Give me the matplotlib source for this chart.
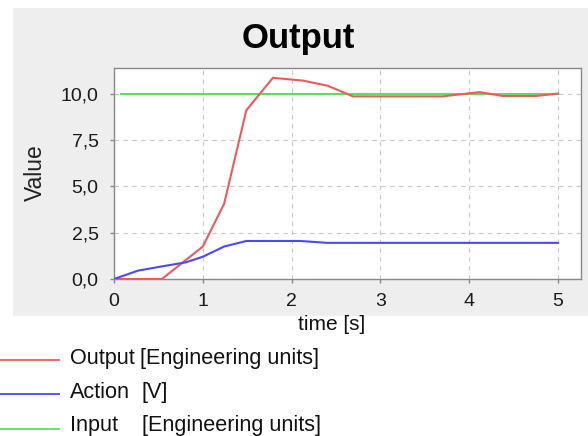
import matplotlib
matplotlib.use('Agg')
import matplotlib.pyplot as plt
from matplotlib.lines import Line2D
from matplotlib.patches import Rectangle
from matplotlib.ticker import FuncFormatter, MultipleLocator

plt.rcParams['font.family'] = ['Liberation Sans', 'DejaVu Sans']

# step response samples
t_output = [0.0, 0.54, 1.0, 1.24, 1.49, 1.79, 2.13, 2.41, 2.69, 3.7, 4.12, 4.38, 4.75, 5.0]
output = [0.0, 0.0, 1.75, 4.05, 9.1, 10.85, 10.7, 10.42, 9.85, 9.85, 10.08, 9.87, 9.87, 10.0]

t_action = [0.0, 0.27, 0.54, 0.81, 1.0, 1.24, 1.49, 2.1, 2.4, 5.0]
action = [0.0, 0.45, 0.68, 0.9, 1.2, 1.75, 2.05, 2.05, 1.95, 1.95]

t_input = [0.08, 5.0]
setpoint = [10.0, 10.0]

series_names = ['Output', 'Action', 'Input']
series_units = ['[Engineering units]', '[V]', '[Engineering units]']
colors = ['#ee5a5a', '#4a4aee', '#5ede5e']

W, H = 588, 436
fig = plt.figure(figsize=(W / 100, H / 100), dpi=100)
fig.patch.set_facecolor('white')

# grey chart panel
fig.patches.append(Rectangle((13 / W, 1 - 316 / H), 575 / W, 308 / H,
                             transform=fig.transFigure, facecolor='#eeeeee',
                             edgecolor='none', zorder=-1))

ax = fig.add_axes([114 / W, 1 - 279 / H, (581 - 114) / W, (279 - 68) / H])
ax.set_zorder(2)
ax.set_facecolor('white')

ax.plot(t_output, output, color=colors[0], lw=1.5, zorder=3)
ax.plot(t_action, action, color=colors[1], lw=1.5, zorder=3)
ax.plot(t_input, setpoint, color=colors[2], lw=1.5, zorder=2)

ax.set_xlim(0, 5.26)
ax.set_ylim(0, 11.38)
ax.xaxis.set_major_locator(MultipleLocator(1))
ax.yaxis.set_major_locator(MultipleLocator(2.5))
ax.yaxis.set_major_formatter(FuncFormatter(lambda v, p: f'{v:.1f}'.replace('.', ',')))
ax.grid(True, color='#c8c8c8', linestyle=(0, (4, 4)), linewidth=0.8)
ax.set_axisbelow(True)
for s in ax.spines.values():
    s.set_color('#888888')
    s.set_linewidth(1.0)
ax.tick_params(axis='both', colors='#888888', labelcolor='#1a1a1a',
               length=3, width=1, labelsize=14)
ax.tick_params(axis='y', pad=8)
ax.tick_params(axis='x', pad=7)

fig.text(298 / W, 1 - 48 / H, 'Output', ha='center', va='baseline',
         fontsize=25, fontweight='bold', color='black')
fig.text(332 / W, 1 - 330 / H, 'time [s]', ha='center', va='baseline',
         fontsize=15, color='#111111')
fig.text(35 / W, 1 - 173 / H, 'Value', ha='center', va='center',
         rotation=90, fontsize=16.5, color='#222222')

# legend rows below the panel
line_y = [360, 394, 429]
text_base = [364, 398, 431]
unit_x = [140, 141.5, 141.5]
for i in range(3):
    fig.add_artist(Line2D([0, 59 / W], [1 - line_y[i] / H] * 2,
                          transform=fig.transFigure, color=colors[i], lw=1.3))
    fig.text(70 / W, 1 - text_base[i] / H, series_names[i], ha='left',
             va='baseline', fontsize=15.6, color='#111111')
    fig.text(unit_x[i] / W, 1 - text_base[i] / H, series_units[i], ha='left',
             va='baseline', fontsize=15.6, color='#111111')

plt.savefig('out.png', dpi=100)
